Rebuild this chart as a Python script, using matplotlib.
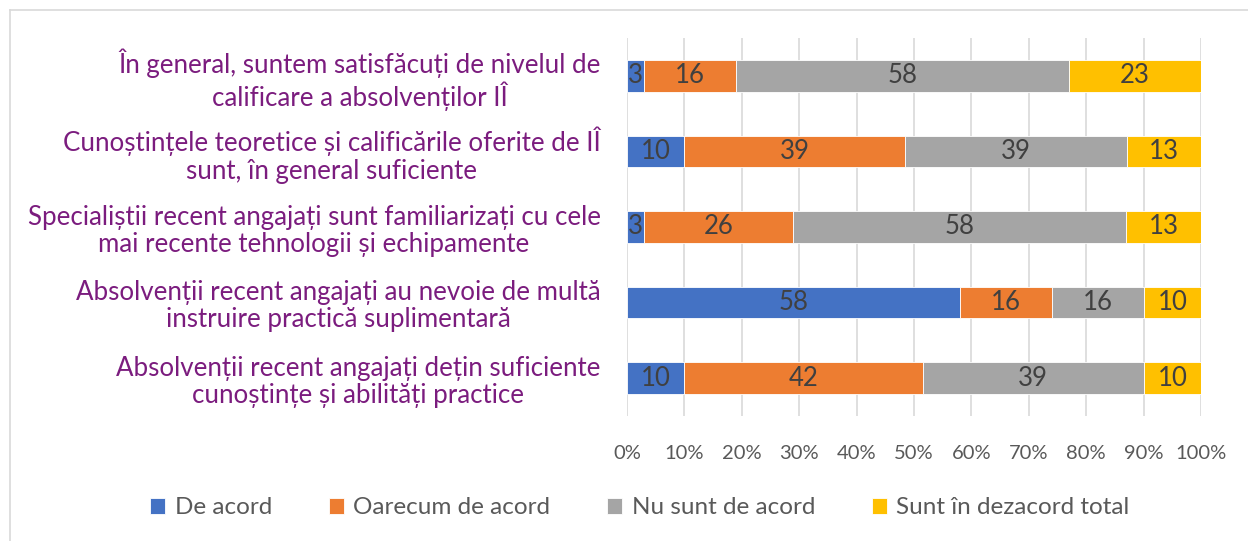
import numpy as np
import matplotlib
matplotlib.use('Agg')
import matplotlib.pyplot as plt
from matplotlib.lines import Line2D

# ── Data ─────────────────────────────────────────────────────
categories = [
    'În general, suntem satisfăcuți de nivelul de\ncalificare a absolvenților IÎ',
    'Cunoștințele teoretice și calificările oferite de IÎ\nsunt, în general suficiente',
    'Specialiștii recent angajați sunt familiarizați cu cele\nmai recente tehnologii și echipamente',
    'Absolvenții recent angajați au nevoie de multă\ninstruire practică suplimentară',
    'Absolvenții recent angajați dețin suficiente\ncunoștințe și abilități practice',
]
series_names = ['De acord', 'Oarecum de acord', 'Nu sunt de acord', 'Sunt în dezacord total']
de_acord = [3, 10, 3, 58, 10]
oarecum = [16, 39, 26, 16, 42]
nu_sunt = [58, 39, 58, 16, 39]
dezacord = [23, 13, 13, 10, 10]
x_ticks = [0, 10, 20, 30, 40, 50, 60, 70, 80, 90, 100]

# ── Style ────────────────────────────────────────────────────
COLORS = ['#4472C4', '#ED7D31', '#A5A5A5', '#FFC000']
PURPLE = '#7B1C7E'
GREY_TXT = '#595959'
LABEL_TXT = '#404040'
plt.rcParams['font.family'] = ['Lato', 'DejaVu Sans']

W, H = 1248, 541
fig = plt.figure(figsize=(W / 100, H / 100), dpi=100)
ax = fig.add_axes([627 / W, 1 - 416 / H, (1201 - 627) / W, (416 - 38) / H])

values = np.array([de_acord, oarecum, nu_sunt, dezacord], dtype=float)
shares = values / values.sum(axis=0) * 100
y = np.arange(len(categories))

left = np.zeros(len(categories))
for i, name in enumerate(series_names):
    ax.barh(y, shares[i], left=left, height=0.42, color=COLORS[i],
            edgecolor='white', linewidth=0.6, label=name, zorder=3)
    for j in range(len(categories)):
        ax.text(left[j] + shares[i][j] / 2, y[j], f'{int(values[i][j])}',
                ha='center', va='center', fontsize=18.5, color=LABEL_TXT, zorder=4)
    left += shares[i]

ax.set_xlim(0, 100)
ax.set_ylim(len(categories) - 0.5, -0.5)
ax.set_xticks(x_ticks)
ax.set_xticklabels([f'{t}%' for t in x_ticks], fontsize=14.5, color=GREY_TXT)
ax.set_yticks(y)
ax.set_yticklabels(categories, fontsize=18.6, color=PURPLE, multialignment='center',
                   linespacing=1.12)
ax.tick_params(axis='x', length=0, pad=21)
ax.tick_params(axis='y', length=0, pad=19)
ax.grid(axis='x', color='#D9D9D9', linewidth=1.2, zorder=0)
for s in ax.spines.values():
    s.set_visible(False)

fig.legend(loc='center', bbox_to_anchor=(640 / W, 1 - 508 / H), ncol=4, frameon=False,
           fontsize=17.5, labelcolor=GREY_TXT, handlelength=0.6, handleheight=0.6,
           handletextpad=0.4, columnspacing=2.35)

# chart border (top and left edges visible)
fig.add_artist(Line2D([10 / W, 1], [1 - 10 / H, 1 - 10 / H], color='#D9D9D9', linewidth=1.2))
fig.add_artist(Line2D([10 / W, 10 / W], [0, 1 - 10 / H], color='#D9D9D9', linewidth=1.2))

fig.savefig('out.png', dpi=100, facecolor='white')
